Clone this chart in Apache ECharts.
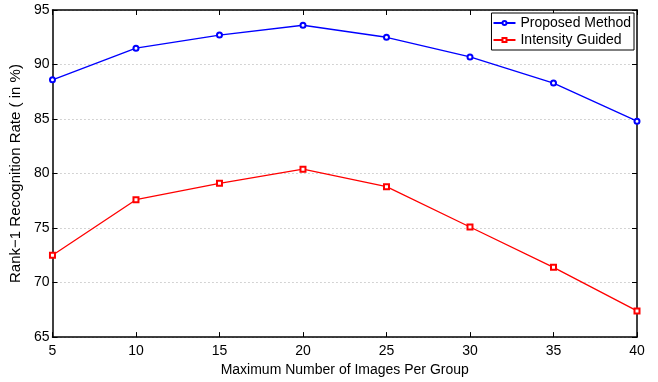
<!DOCTYPE html>
<html><head><meta charset="utf-8">
<script src="https://cdn.jsdelivr.net/npm/echarts@6/dist/echarts.min.js"></script>
<style>html,body{margin:0;padding:0;background:#fff}#c{width:658px;height:382px}</style>
</head><body><div id="c"></div>
<script>
const xValues = [5, 10, 15, 20, 25, 30, 35, 40];
const proposed = [88.6, 91.5, 92.7, 93.6, 92.5, 90.7, 88.3, 84.8];
const intensity = [72.5, 77.6, 79.1, 80.4, 78.8, 75.1, 71.4, 67.4];
const seriesNames = ['Proposed Method', 'Intensity Guided'];
const xName = 'Maximum Number of Images Per Group';
const yName = 'Rank\u22121 Recognition Rate ( in %)';

const font = 'Liberation Sans, Arial, Helvetica, sans-serif';
const chart = echarts.init(document.getElementById('c'));
const axisCommon = {
  axisLine: {show: true, onZero: false, lineStyle: {color: '#000', width: 1.5}},
  axisTick: {show: true, inside: true, length: 5, lineStyle: {color: '#000', width: 1}},
};
chart.setOption({
  animation: false,
  grid: {left: 49, right: 21, top: 10, bottom: 37, containLabel: false},
  legend: {
    right: 24, top: 13, orient: 'vertical', itemGap: 1, itemWidth: 22, itemHeight: 5,
    borderColor: '#000', borderWidth: 1, padding: [2, 3, 2, 1], backgroundColor: '#fff',
    textStyle: {fontFamily: font, fontSize: 14, color: '#000', lineHeight: 16},
    data: seriesNames
  },
  xAxis: [{
    type: 'value', min: 5, max: 40, interval: 5,
    name: xName, nameLocation: 'middle', nameGap: 17,
    nameTextStyle: {fontFamily: font, fontSize: 14, color: '#000'},
    axisLabel: {fontFamily: font, fontSize: 14, color: '#000', margin: 7},
    splitLine: {show: false}, ...axisCommon
  }, {
    type: 'value', min: 5, max: 40, interval: 5, position: 'top',
    axisLabel: {show: false}, splitLine: {show: false}, ...axisCommon
  }],
  yAxis: [{
    type: 'value', min: 65, max: 95, interval: 5,
    name: yName, nameLocation: 'middle', nameGap: 21,
    nameTextStyle: {fontFamily: font, fontSize: 15, color: '#000'},
    axisLabel: {fontFamily: font, fontSize: 14, color: '#000', margin: 3},
    splitLine: {show: true, lineStyle: {color: '#aaa', type: [1, 3], width: 1}},
    ...axisCommon
  }, {
    type: 'value', min: 65, max: 95, interval: 5, position: 'right',
    axisLabel: {show: false}, splitLine: {show: false}, ...axisCommon
  }],
  series: [{
    name: seriesNames[0], type: 'line',
    data: xValues.map((x, i) => [x, proposed[i]]),
    symbol: 'emptyCircle', symbolSize: 5, showAllSymbol: true,
    lineStyle: {color: '#0000ff', width: 1.3},
    itemStyle: {color: '#0000ff', borderColor: '#0000ff', borderWidth: 1.5}
  }, {
    name: seriesNames[1], type: 'line',
    data: xValues.map((x, i) => [x, intensity[i]]),
    symbol: 'emptyRect', symbolSize: 5, showAllSymbol: true,
    lineStyle: {color: '#ff0000', width: 1.3},
    itemStyle: {color: '#ff0000', borderColor: '#ff0000', borderWidth: 1.5}
  }]
});
</script></body></html>
